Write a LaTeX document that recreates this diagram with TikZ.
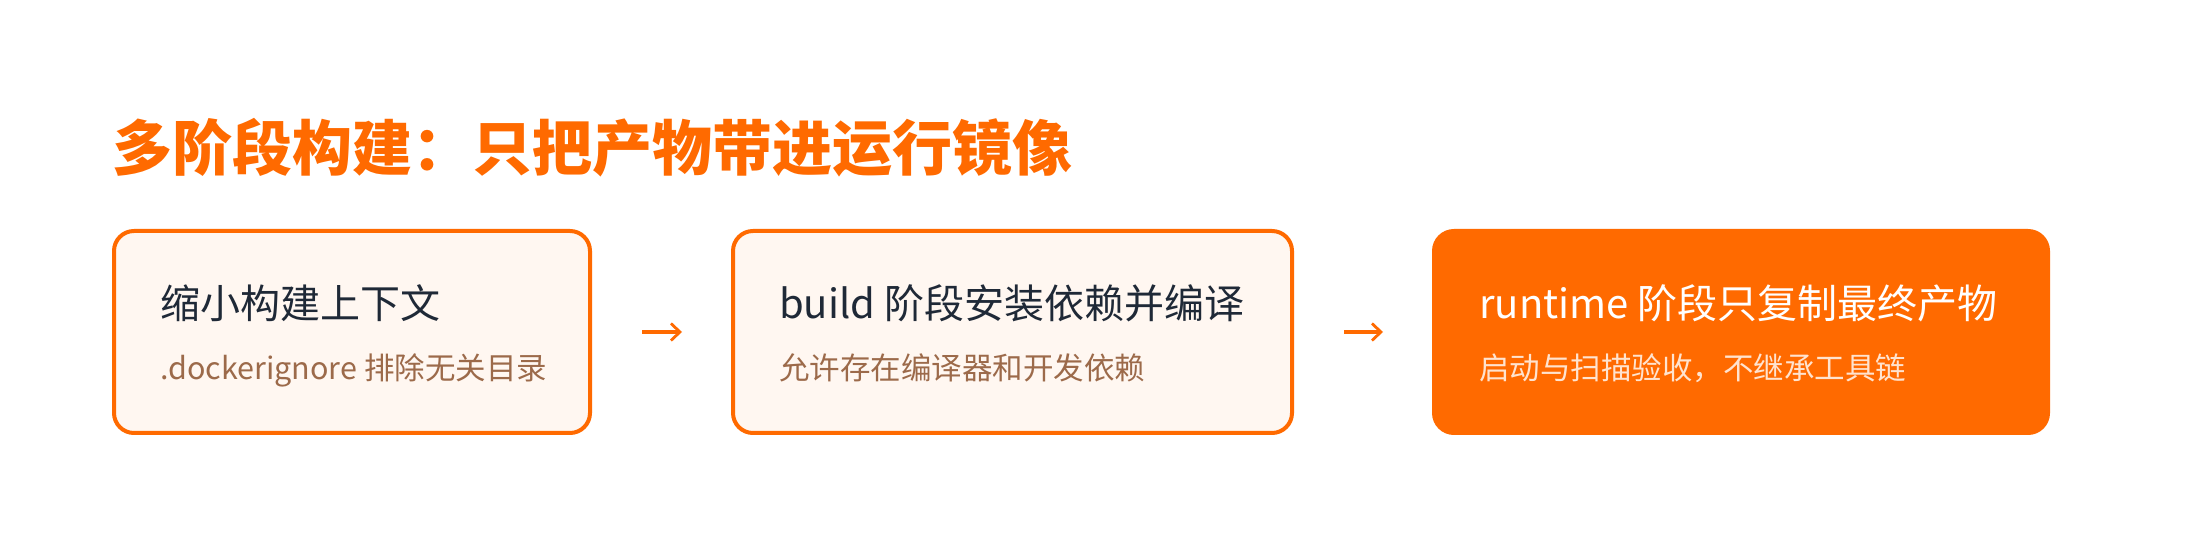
\documentclass[tikz,border=0pt]{standalone}
\usepackage{fontspec}
\setmainfont{Noto Sans CJK SC}
\usetikzlibrary{arrows.meta}
\definecolor{accent}{HTML}{FF6A00}
\definecolor{boxfill}{HTML}{FFF7F1}
\definecolor{headtext}{HTML}{1F2937}
\definecolor{subtext}{HTML}{9C6A4A}
\definecolor{lightsub}{HTML}{FFE3CF}
\begin{document}
\begin{tikzpicture}[x=1pt,y=1pt,
  stagebox/.style={draw=accent, line width=4pt, fill=boxfill, rounded corners=20pt,
    outer sep=0pt, inner sep=0pt, minimum height=202pt},
  hotbox/.style={stagebox, fill=accent},
  headlbl/.style={anchor=base west, inner sep=0pt, font=\fontsize{40}{48}\selectfont, text=headtext},
  sublbl/.style={anchor=base west, inner sep=0pt, font=\fontsize{30.5}{36}\selectfont, text=subtext},
  flow/.style={draw=accent, line width=3.4pt, -{Straight Barb[length=9pt,width=17pt,line width=2.8pt]},
    shorten <=52pt, shorten >=51pt}
]
\useasboundingbox[fill=white] (0,0) rectangle (2200,548);
\node[anchor=base west, inner sep=0pt, font=\fontsize{60}{72}\selectfont\bfseries, text=accent]
  (title) at (112,377) {多阶段构建：只把产物带进运行镜像};

\node[stagebox, minimum width=476pt] (b1) at (352,216) {};
\node[stagebox, minimum width=559pt] (b2) at (1012.5,216) {};
\node[hotbox, minimum width=614pt] (b3) at (1741,216) {};

\node[headlbl] (t1) at (160,229) {缩小构建上下文};
\node[sublbl] (s1) at (160,168) {.dockerignore 排除无关目录};
\node[headlbl] (t2) at (779,229) {build 阶段安装依赖并编译};
\node[sublbl] (s2) at (779,168) {允许存在编译器和开发依赖};
\node[headlbl, text=white] (t3) at (1479,229) {runtime 阶段只复制最终产物};
\node[sublbl, text=lightsub] (s3) at (1479,168) {启动与扫描验收，不继承工具链};

\draw[flow] (b1) -- (b2);
\draw[flow] (b2) -- (b3);
\end{tikzpicture}
\end{document}
